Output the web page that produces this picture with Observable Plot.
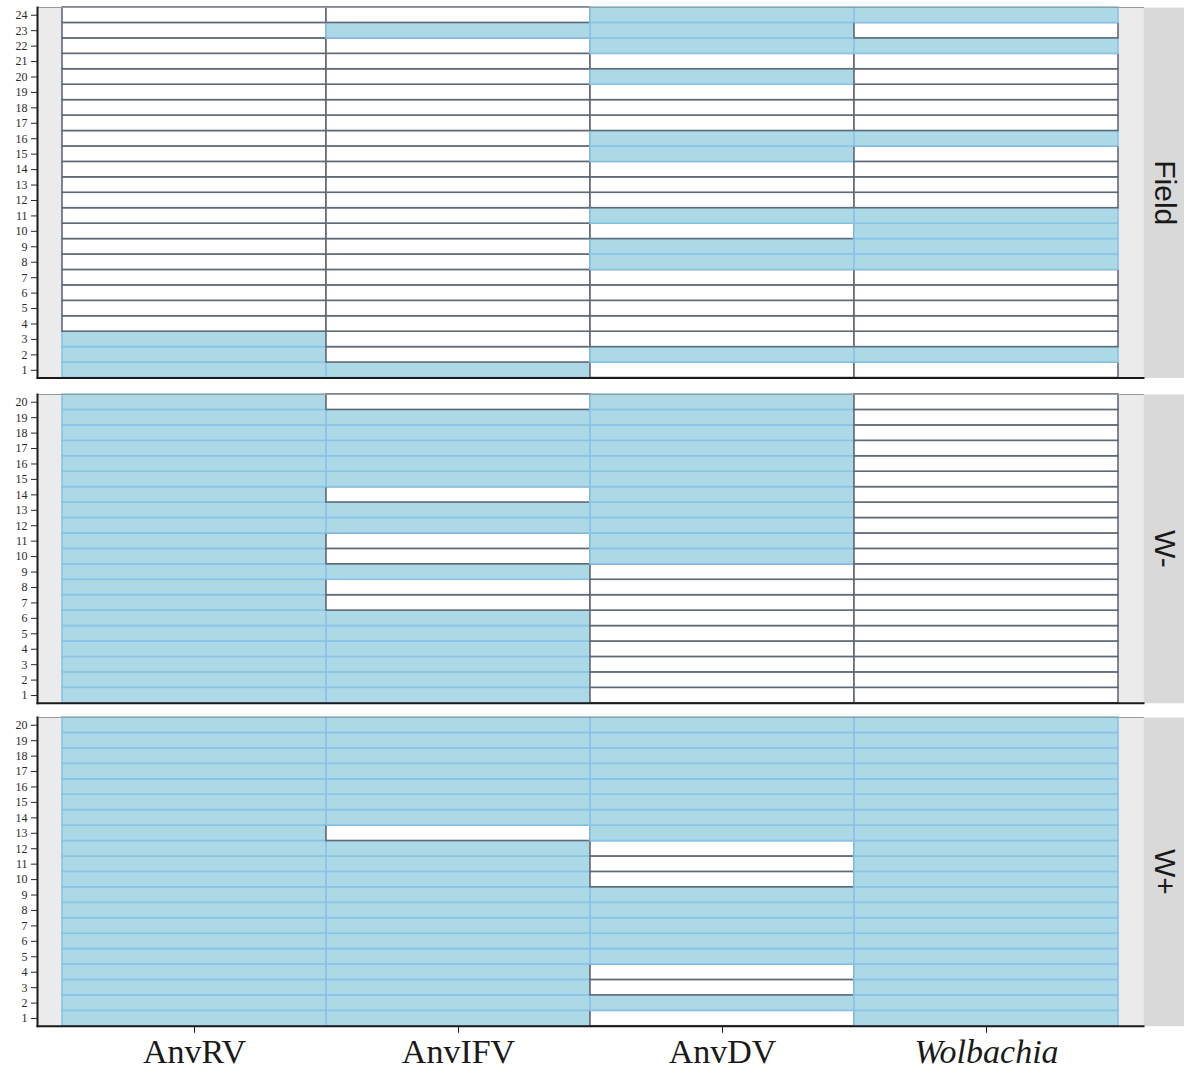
<!DOCTYPE html>
<html>
<head>
<meta charset="utf-8">
<script src="https://cdn.jsdelivr.net/npm/d3@7"></script>
<script src="https://cdn.jsdelivr.net/npm/@observablehq/plot@0.6"></script>
<style>
  html, body { margin: 0; padding: 0; background: #ffffff; }
  #chart svg { display: block; }
</style>
</head>
<body>
<div id="chart"></div>
<script>
// ---- data ----
const viruses = ["AnvRV", "AnvIFV", "AnvDV", "Wolbachia"];
const groups = ["Field", "W-", "W+"];
const sampleCounts = [24, 20, 20];

// 1 = detected (blue), 0 = not detected (white); index 0 = sample 1
const fieldAnvRV     = [1,1,1,0,0,0,0,0,0,0,0,0,0,0,0,0,0,0,0,0,0,0,0,0];
const fieldAnvIFV    = [1,0,0,0,0,0,0,0,0,0,0,0,0,0,0,0,0,0,0,0,0,0,1,0];
const fieldAnvDV     = [0,1,0,0,0,0,0,1,1,0,1,0,0,0,1,1,0,0,0,1,0,1,1,1];
const fieldWolbachia = [0,1,0,0,0,0,0,1,1,1,1,0,0,0,0,1,0,0,0,0,0,1,0,1];

const wMinusAnvRV     = [1,1,1,1,1,1,1,1,1,1,1,1,1,1,1,1,1,1,1,1];
const wMinusAnvIFV    = [1,1,1,1,1,1,0,0,1,0,0,1,1,0,1,1,1,1,1,0];
const wMinusAnvDV     = [0,0,0,0,0,0,0,0,0,1,1,1,1,1,1,1,1,1,1,1];
const wMinusWolbachia = [0,0,0,0,0,0,0,0,0,0,0,0,0,0,0,0,0,0,0,0];

const wPlusAnvRV     = [1,1,1,1,1,1,1,1,1,1,1,1,1,1,1,1,1,1,1,1];
const wPlusAnvIFV    = [1,1,1,1,1,1,1,1,1,1,1,1,0,1,1,1,1,1,1,1];
const wPlusAnvDV     = [0,1,0,0,1,1,1,1,1,0,0,0,1,1,1,1,1,1,1,1];
const wPlusWolbachia = [1,1,1,1,1,1,1,1,1,1,1,1,1,1,1,1,1,1,1,1];

const groupStatus = [
  [fieldAnvRV, fieldAnvIFV, fieldAnvDV, fieldWolbachia],
  [wMinusAnvRV, wMinusAnvIFV, wMinusAnvDV, wMinusWolbachia],
  [wPlusAnvRV, wPlusAnvIFV, wPlusAnvDV, wPlusWolbachia]
];

// ---- styles ----
const BLUE = "#add8e6", BLUE_EDGE = "#88c4ea";
const WHITE = "#ffffff", GRAY_EDGE = "#5f6977";
const W = 1184, ML = 37, MR = 41;
const margins = [[7, 8], [8, 8], [7, 47]];
const totalH = 1073;
const rowPx = (totalH - d3.sum(margins.flat())) / d3.sum(sampleCounts);
const serif = "'Liberation Serif', 'Times New Roman', Times, serif";
const sans = "'Liberation Sans', Arial, Helvetica, sans-serif";

function makePanel(gi) {
  const n = sampleCounts[gi];
  const [mt, mb] = margins[gi];
  const showX = gi === groups.length - 1;
  const data = [];
  viruses.forEach((v, i) => groupStatus[gi][i].forEach((s, j) =>
    data.push({virus: v, sample: j + 1, positive: s === 1})));
  const panelW = W - ML - MR;
  const marks = [
    Plot.frame({fill: "#ebebeb"}),
    Plot.cell(data, {
      x: "virus", y: "sample", inset: 0,
      fill: d => d.positive ? BLUE : WHITE,
      stroke: d => d.positive ? BLUE_EDGE : GRAY_EDGE,
      strokeWidth: 1.6
    }),
    Plot.frame({anchor: "top", stroke: "#9a9a9a", strokeWidth: 1}),
    Plot.frame({fill: "#d9d9d9", insetLeft: panelW, insetRight: -MR}),
    Plot.frame({anchor: "bottom", stroke: "#1a1a1a", strokeWidth: 2}),
    Plot.frame({anchor: "left", stroke: "#1a1a1a", strokeWidth: 2}),
    Plot.axisY({tickSize: 6, tickPadding: 4, fontSize: 12, fontFamily: serif, color: "#2a2a2a", label: null}),
    Plot.text([groups[gi]], {frameAnchor: "right", textAnchor: "middle", dx: 21, rotate: 90, fontSize: 30, fontFamily: sans, fill: "#1a1a1a"})
  ];
  if (showX) {
    marks.push(
      Plot.axisX({tickSize: 7, tickFormat: () => "", color: "#1a1a1a", label: null}),
      Plot.text(viruses.filter(v => v !== "Wolbachia"), {
        x: d => d, frameAnchor: "bottom", lineAnchor: "top", dy: 13,
        fontSize: 34, fontFamily: serif, fill: "#1a1a1a"
      }),
      Plot.text(["Wolbachia"], {
        x: d => d, frameAnchor: "bottom", lineAnchor: "top", dy: 13,
        fontSize: 34, fontFamily: serif, fontStyle: "italic", fill: "#1a1a1a"
      })
    );
  }
  return Plot.plot({
    width: W,
    height: mt + mb + n * rowPx,
    marginLeft: ML, marginRight: MR, marginTop: mt, marginBottom: mb,
    style: {background: "#ffffff", overflow: "visible"},
    x: {type: "band", domain: viruses, padding: 0, round: false, insetLeft: 25, insetRight: 25, axis: null},
    y: {type: "band", domain: d3.range(n, 0, -1), padding: 0, round: false, axis: null},
    color: {type: "identity"},
    marks
  });
}

const container = document.getElementById("chart");
groups.forEach((g, gi) => container.appendChild(makePanel(gi)));
</script>
</body>
</html>
